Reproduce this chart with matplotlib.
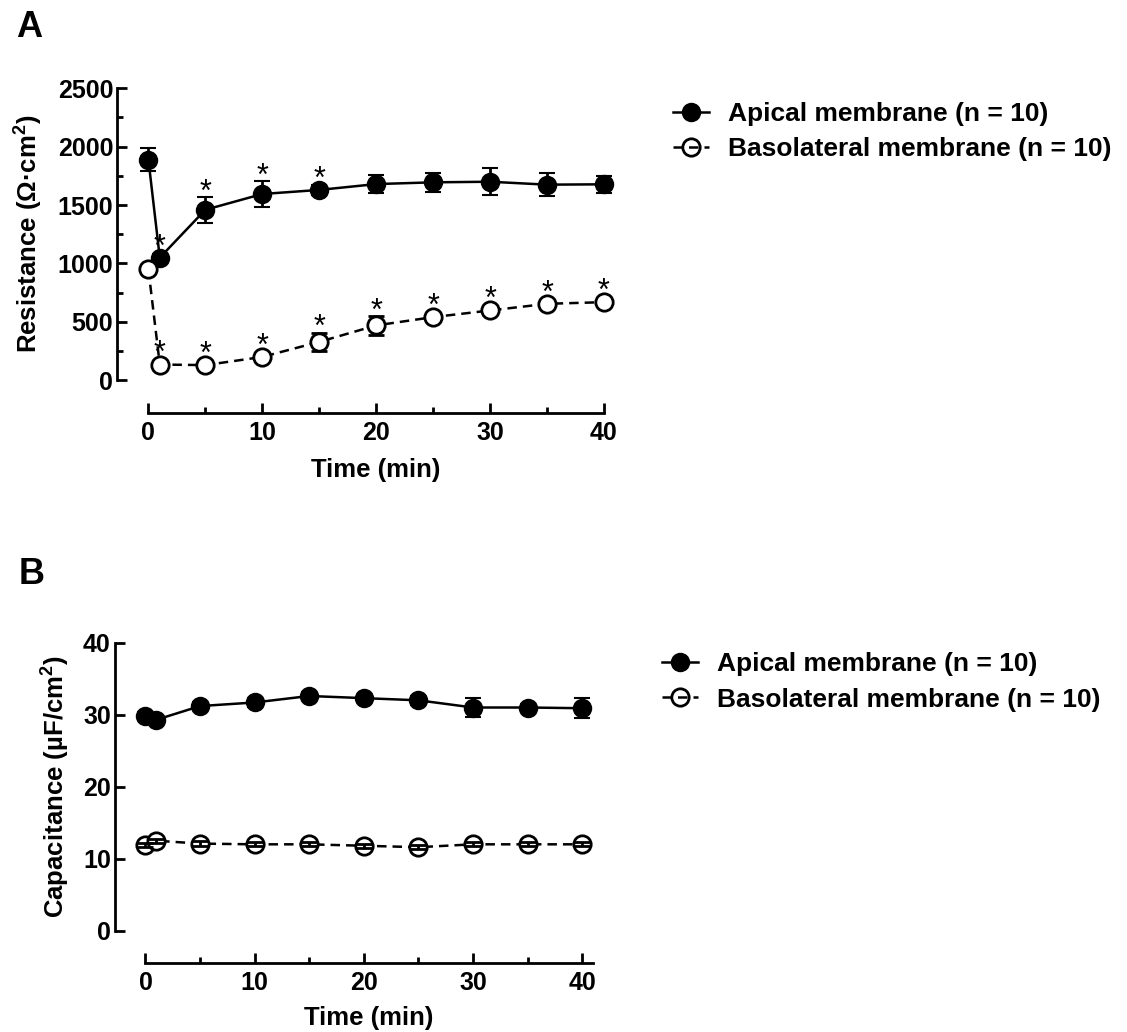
import matplotlib
matplotlib.use("Agg")
import matplotlib.pyplot as plt
from matplotlib.lines import Line2D
from matplotlib.ticker import MultipleLocator, FixedLocator

plt.rcParams['font.family'] = ['Liberation Sans', 'DejaVu Sans']
plt.rcParams['font.weight'] = 'bold'
plt.rcParams['mathtext.fontset'] = 'custom'
plt.rcParams['mathtext.rm'] = 'Liberation Sans:bold'
plt.rcParams['mathtext.bf'] = 'Liberation Sans:bold'
plt.rcParams['mathtext.default'] = 'bf'

# ---------------- data ----------------
time_min = [0, 1, 5, 10, 15, 20, 25, 30, 35, 40]

res_apical = [1890, 1050, 1460, 1595, 1630, 1680, 1695, 1700, 1675, 1678]
res_apical_sem = [100, 30, 110, 110, 40, 80, 80, 115, 100, 75]
res_baso = [950, 135, 130, 200, 329, 470, 541, 598, 655, 669]
res_baso_sem = [30, 20, 20, 25, 80, 80, 20, 25, 20, 20]
sig_apical = [0, 1, 1, 1, 1, 0, 0, 0, 0, 0]
sig_baso = [0, 1, 1, 1, 1, 1, 1, 1, 1, 1]

cap_apical = [29.8, 29.3, 31.2, 31.7, 32.6, 32.3, 32.0, 31.0, 31.0, 30.9]
cap_apical_sem = [0.6, 0.5, 0.5, 0.6, 0.5, 0.5, 0.6, 1.3, 0.5, 1.4]
cap_baso = [11.9, 12.5, 12.1, 12.0, 12.0, 11.8, 11.6, 12.0, 12.0, 12.0]
cap_baso_sem = [0.3, 0.3, 0.3, 0.3, 0.3, 0.3, 0.3, 0.3, 0.3, 0.3]

label_apical = 'Apical membrane (n = 10)'
label_baso = 'Basolateral membrane (n = 10)'

W, H = 1127, 1032
fig = plt.figure(figsize=(W / 100, H / 100), dpi=100)


def fx(px):
    return px / W


def fy(py):
    return 1 - py / H


LW_AX = 2.0
LW_DATA = 1.8
MS = 12.5
DASH = (0, (3.8, 2.4))
TICKFS = 18
LABFS = 18.5
LEGFS = 19
ASTFS = 22


def style_axes(ax, ybounds, xbounds, ymajor, yminor):
    for s in ['top', 'right']:
        ax.spines[s].set_visible(False)
    for s in ['left', 'bottom']:
        ax.spines[s].set_linewidth(LW_AX)
    ax.spines['left'].set_bounds(*ybounds)
    ax.spines['bottom'].set_bounds(*xbounds)
    ax.xaxis.set_major_locator(MultipleLocator(10))
    ax.xaxis.set_minor_locator(FixedLocator([5, 15, 25, 35]))
    ax.yaxis.set_major_locator(MultipleLocator(ymajor))
    if yminor is not None:
        ax.yaxis.set_minor_locator(FixedLocator(yminor))
    ax.tick_params(axis='both', which='major', direction='in', length=7,
                   width=LW_AX, labelsize=TICKFS)
    ax.tick_params(axis='both', which='minor', direction='in', length=4.6,
                   width=LW_AX)
    ax.tick_params(axis='x', which='major', pad=6)
    ax.tick_params(axis='y', which='major', pad=3)
    for lab in ax.get_xticklabels() + ax.get_yticklabels():
        lab.set_fontweight('bold')


def stars(ax, xs, means, sems, flags):
    for t, m, s, f in zip(xs, means, sems, flags):
        if f:
            y = max(m + s + 119, m + 170)
            ax.annotate('*', xy=(t, y), xytext=(0, -0.58 * ASTFS),
                        textcoords='offset points', ha='center', va='baseline',
                        fontsize=ASTFS, fontweight='normal')


# ---------------- Panel A ----------------
axA = fig.add_axes([fx(117.3), fy(413), 495.8 / W, 324.7 / H])
axA.set_xlim(-2.73, 40.8)
axA.set_ylim(-280, 2500)

axA.errorbar(time_min, res_apical, yerr=res_apical_sem, color='black',
             lw=LW_DATA, elinewidth=LW_AX, capsize=6, capthick=LW_AX,
             marker='o', ms=MS, mfc='black', mec='black', mew=1.5,
             clip_on=False, zorder=3)
axA.errorbar(time_min, res_baso, yerr=res_baso_sem, color='black',
             lw=LW_DATA, ls=DASH, elinewidth=LW_AX, capsize=6, capthick=LW_AX,
             marker='o', ms=MS, mfc='white', mec='black', mew=2,
             clip_on=False, zorder=3)

stars(axA, time_min, res_apical, res_apical_sem, sig_apical)
stars(axA, time_min, res_baso, res_baso_sem, sig_baso)

style_axes(axA, (0, 2500), (0, 40), 500, [250, 750, 1250, 1750, 2250])

# ---------------- Panel B ----------------
axB = fig.add_axes([fx(115), fy(962.7), 479.3 / W, 320 / H])
axB.set_xlim(-2.79, 41.1)
axB.set_ylim(-4.44, 40)

axB.errorbar(time_min, cap_apical, yerr=cap_apical_sem, color='black',
             lw=LW_DATA, elinewidth=LW_AX, capsize=6, capthick=LW_AX,
             marker='o', ms=MS, mfc='black', mec='black', mew=1.5,
             clip_on=False, zorder=3)
axB.plot(time_min, cap_baso, color='black', lw=LW_DATA, ls=DASH,
         marker='o', ms=MS, mfc='white', mec='black', mew=2,
         clip_on=False, zorder=3)
axB.errorbar(time_min, cap_baso, yerr=cap_baso_sem, fmt='none', ecolor='black',
             elinewidth=LW_AX, capsize=6, capthick=LW_AX, clip_on=False, zorder=4)

style_axes(axB, (0, 40), (0, 41), 10, None)

# ---------------- labels ----------------
fig.text(fx(29), fy(234), r'Resistance (Ω·cm$^{2}$)', rotation=90,
         ha='center', va='center', fontsize=LABFS, fontweight='bold')
fig.text(fx(376), fy(470), 'Time (min)', ha='center', va='center',
         fontsize=LABFS, fontweight='bold')
fig.text(fx(56), fy(786.7), r'Capacitance (µF/cm$^{2}$)', rotation=90,
         ha='center', va='center', fontsize=LABFS, fontweight='bold')
fig.text(fx(369), fy(1018), 'Time (min)', ha='center', va='center',
         fontsize=LABFS, fontweight='bold')

fig.text(fx(16), fy(36.7), 'A', ha='left', va='baseline', fontsize=26, fontweight='bold')
fig.text(fx(19), fy(584), 'B', ha='left', va='baseline', fontsize=26, fontweight='bold')

# ---------------- legends ----------------
h_ap = Line2D([], [], color='black', lw=LW_DATA, marker='o', ms=MS,
              mfc='black', mec='black', mew=1.5)
h_bl = Line2D([], [], color='black', lw=LW_DATA, ls=DASH, marker='o', ms=MS,
              mfc='none', mec='black', mew=2)

for (x0, yc) in [(673, 131.4), (662, 682)]:
    fig.legend([h_ap, h_bl], [label_apical, label_baso], loc='center left',
               bbox_to_anchor=(fx(x0), fy(yc)), frameon=False, borderpad=0,
               borderaxespad=0, handlelength=1.35, handletextpad=0.75,
               labelspacing=0.42, prop={'weight': 'bold', 'size': LEGFS})

fig.savefig('out.png', dpi=100)
